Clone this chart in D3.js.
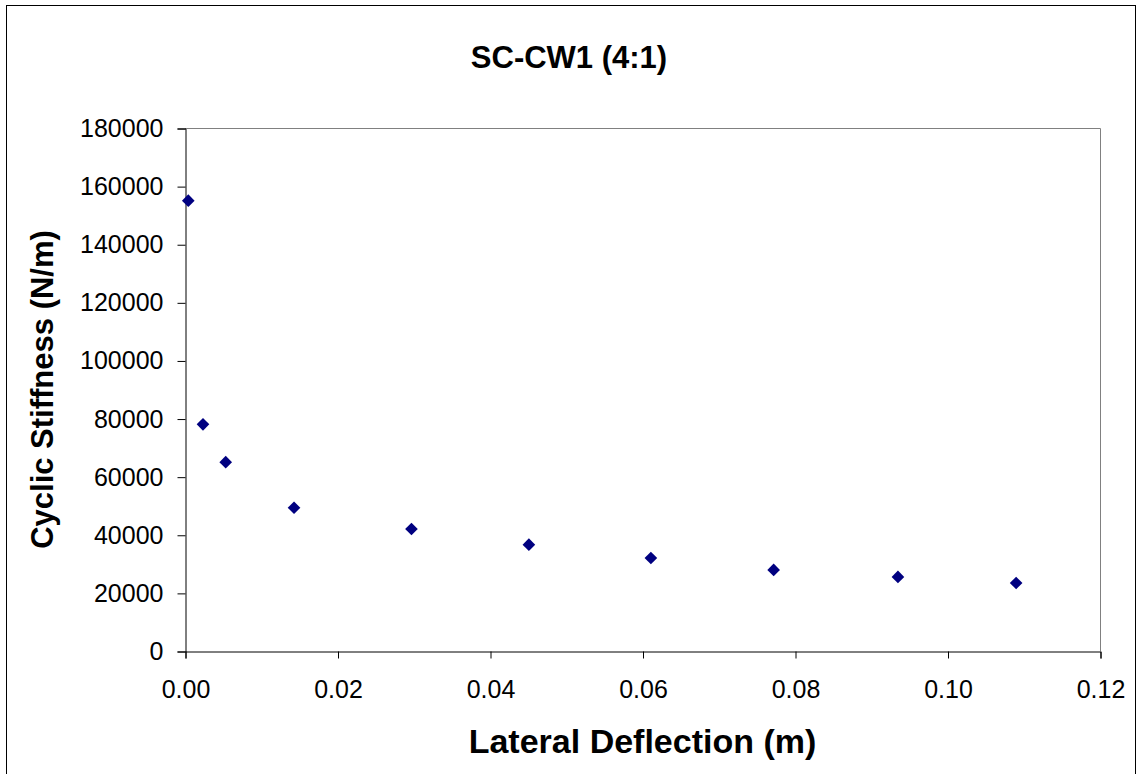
<!DOCTYPE html>
<html>
<head>
<meta charset="utf-8">
<script src="https://cdn.jsdelivr.net/npm/d3@7"></script>
<style>
  html, body { margin: 0; padding: 0; background: #fff; }
  svg { display: block; font-family: "Liberation Sans", Arial, sans-serif; }
</style>
</head>
<body>
<svg id="chart" width="1138" height="774"></svg>
<script>
// Cyclic stiffness vs lateral deflection, specimen SC-CW1 (4:1)
const deflection = [0.00043, 0.00236, 0.00534, 0.0143, 0.0297, 0.0451, 0.0611, 0.0772, 0.0935, 0.1090];
const stiffness  = [155000, 78000, 65000, 49300, 42000, 36600, 32000, 27900, 25500, 23400];
const xTicks = [0, 0.02, 0.04, 0.06, 0.08, 0.10, 0.12];
const yTicks = [0, 20000, 40000, 60000, 80000, 100000, 120000, 140000, 160000, 180000];

const titleText = "SC-CW1 (4:1)";
const xTitle = "Lateral Deflection (m)";
const yTitle = "Cyclic Stiffness (N/m)";

const plot = { left: 185, right: 1100, top: 128, bottom: 651 };

const svg = d3.select("#chart");

// chart frame
svg.append("rect")
  .attr("x", 6.5).attr("y", 5.5)
  .attr("width", 1129).attr("height", 780)
  .attr("fill", "#fff").attr("stroke", "#000").attr("stroke-width", 1);

const x = d3.scaleLinear().domain([0, 0.12]).range([plot.left, plot.right]);
const y = d3.scaleLinear().domain([0, 180000]).range([plot.bottom, plot.top]);

// plot area border (top and right edges)
svg.append("path")
  .attr("d", `M${plot.left},${plot.top + 0.5}H${plot.right + 0.5}V${plot.bottom}`)
  .attr("fill", "none").attr("stroke", "#808080").attr("stroke-width", 1);

// x axis
const xAxis = svg.append("g")
  .attr("transform", `translate(0.5,${plot.bottom + 0.5})`)
  .call(d3.axisBottom(x).tickValues(xTicks).tickFormat(d3.format(".2f")).tickSizeOuter(0).tickSize(7).tickPadding(22));
xAxis.select(".domain").attr("stroke", "#000");
xAxis.selectAll(".tick line").attr("stroke", "#000");
xAxis.selectAll("text").attr("font-size", 25).attr("fill", "#000")
  .attr("font-family", "Liberation Sans, Arial, sans-serif");

// y axis
const yAxis = svg.append("g")
  .attr("transform", `translate(${plot.left + 0.5},0.5)`)
  .call(d3.axisLeft(y).tickValues(yTicks).tickFormat(d3.format("d")).tickSizeOuter(0).tickSize(8).tickPadding(14));
yAxis.select(".domain").attr("stroke", "#000");
yAxis.selectAll(".tick line").attr("stroke", "#000");
yAxis.selectAll("text").attr("font-size", 25).attr("fill", "#000")
  .attr("font-family", "Liberation Sans, Arial, sans-serif");

// data markers (diamonds)
svg.append("g")
  .selectAll("path")
  .data(deflection.map((d, i) => [d, stiffness[i]]))
  .join("path")
  .attr("transform", d => `translate(${x(d[0])},${y(d[1])}) rotate(45)`)
  .attr("d", d3.symbol().type(d3.symbolSquare).size(80))
  .attr("fill", "#000080");

// titles
svg.append("text")
  .attr("x", 569).attr("y", 68)
  .attr("text-anchor", "middle")
  .attr("font-size", 31).attr("font-weight", "bold")
  .text(titleText);

svg.append("text")
  .attr("x", (plot.left + plot.right) / 2).attr("y", 753)
  .attr("text-anchor", "middle")
  .attr("font-size", 34).attr("font-weight", "bold")
  .text(xTitle);

svg.append("text")
  .attr("transform", `translate(53,${(plot.top + plot.bottom) / 2}) rotate(-90)`)
  .attr("text-anchor", "middle")
  .attr("font-size", 31).attr("font-weight", "bold")
  .text(yTitle);
</script>
</body>
</html>
